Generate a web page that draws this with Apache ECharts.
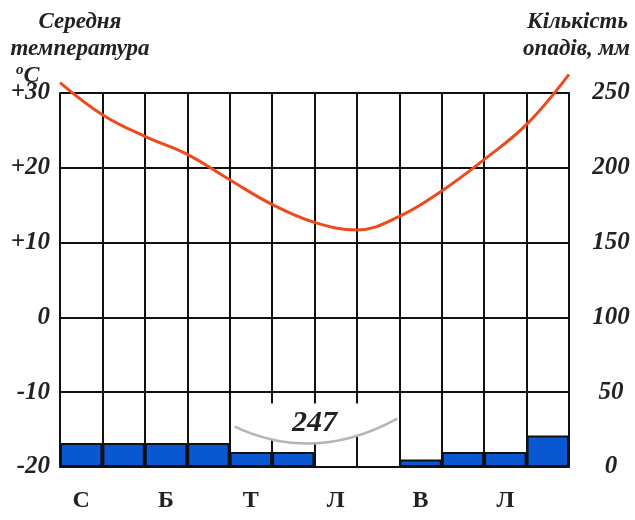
<!DOCTYPE html>
<html><head><meta charset="utf-8">
<script src="https://cdn.jsdelivr.net/npm/echarts@6/dist/echarts.min.js"></script>
<style>html,body{margin:0;padding:0;background:#fff}#c{width:635px;height:520px}</style>
</head><body><div id="c"></div>
<script>
const months = ['С','Л','Б','К','Т','Ч','Л','С','В','Ж','Л','Г'];
const precipitation = [16,16,16,16,10,10,0,0,5,10,10,21];
const boundaries = ['0','1','2','3','4','5','6','7','8','9','10','11','12'];
const temperature = [31.4,27.1,24.2,21.8,18.4,15.1,12.7,11.7,13.5,16.9,21.1,25.8,32.5];
const tempTicks = {min:-20, max:30, interval:10};
const precipTicks = {min:0, max:250, interval:50};
const noteText = '247';

const FONT = '"Liberation Serif", "DejaVu Serif", serif';
const chart = echarts.init(document.getElementById('c'), null, {renderer:'canvas'});
const grid = {left:60, right:66, top:93, bottom:53};
const titleFont = 'italic bold 23px ' + FONT;
const titles = [
  {type:'text', x:80, y:22, style:{text:'Середня', font:titleFont, fill:'#222', align:'center', verticalAlign:'middle'}},
  {type:'text', x:80, y:49, style:{text:'температура', font:titleFont, fill:'#222', align:'center', verticalAlign:'middle'}},
  {type:'text', x:16, y:76, style:{text:'{o|o}{c|C}', fill:'#222', verticalAlign:'middle',
    rich:{o:{font:'italic bold 15px '+FONT, fill:'#222', verticalAlign:'top', padding:[0,0,12,0]}, c:{font:'italic bold 24px '+FONT, fill:'#222'}}}},
  {type:'text', x:628, y:22, style:{text:'Кількість', font:titleFont, fill:'#222', align:'right', verticalAlign:'middle'}},
  {type:'text', x:630, y:49, style:{text:'опадів, мм', font:titleFont, fill:'#222', align:'right', verticalAlign:'middle'}}
];
chart.setOption({
  animation:false,
  grid: grid,
  xAxis:[{
    type:'category', data:months, boundaryGap:true,
    axisLine:{lineStyle:{color:'#111', width:2}},
    axisTick:{show:true, interval:0, length:8, lineStyle:{color:'#111', width:2}},
    axisLabel:{interval:1, margin:22, fontFamily:FONT, fontWeight:'bold', fontSize:24, color:'#222'},
    splitLine:{show:true, interval:0, lineStyle:{color:'#111', width:2}}
  },{
    type:'category', data:boundaries, boundaryGap:false, show:false, position:'top'
  }],
  yAxis:[{
    type:'value', min:tempTicks.min, max:tempTicks.max, interval:tempTicks.interval,
    axisLine:{show:true, lineStyle:{color:'#111', width:2}},
    axisTick:{show:false},
    axisLabel:{margin:10, fontFamily:FONT, fontStyle:'italic', fontWeight:'bold', fontSize:25, color:'#222',
      formatter:v => v>0 ? '+'+v : String(v)},
    splitLine:{show:true, lineStyle:{color:'#111', width:2}}
  },{
    type:'value', min:precipTicks.min, max:precipTicks.max, interval:precipTicks.interval,
    position:'right',
    axisLine:{show:true, lineStyle:{color:'#111', width:2}},
    axisTick:{show:false},
    axisLabel:{margin:42, align:'center', fontFamily:FONT, fontStyle:'italic', fontWeight:'bold', fontSize:25, color:'#222'},
    splitLine:{show:false}
  }],
  series:[{
    type:'bar', xAxisIndex:0, yAxisIndex:1, data:precipitation, barCategoryGap:0,
    itemStyle:{color:'#0a57d2', borderColor:'#111', borderWidth:2}, z:2
  },{
    type:'line', xAxisIndex:1, yAxisIndex:0, data:temperature, smooth:0.4, symbol:'none', clip:false,
    lineStyle:{color:'#ee4a1c', width:3}, z:5
  }],
  graphic:titles
});

// annotation "247" placed from axis coordinates
const xL = chart.convertToPixel({xAxisIndex:1}, 4);
const xR = chart.convertToPixel({xAxisIndex:1}, 8);
const yTop = chart.convertToPixel({yAxisIndex:0}, -11.5);
const yEdge = chart.convertToPixel({yAxisIndex:0}, -14.6);
const yMid = chart.convertToPixel({yAxisIndex:0}, -19.6);
const cx = (xL + xR) / 2;
const p0 = [xL+3, yEdge], p2 = [xR-2, yEdge-8], c1 = [cx, yMid];
const curve = [];
for (let i = 0; i <= 30; i++) {
  const t = i/30, u = 1-t;
  curve.push([u*u*p2[0] + 2*u*t*c1[0] + t*t*p0[0], u*u*p2[1] + 2*u*t*c1[1] + t*t*p0[1]]);
}
const poly = [[xL+3, yTop],[xR-2, yTop]].concat(curve);
chart.setOption({graphic: titles.concat([
  {type:'polygon', shape:{points:poly}, style:{fill:'#fff'}, z:10},
  {type:'bezierCurve', shape:{x1:p0[0]+2, y1:p0[1], x2:p2[0], y2:p2[1], cpx1:c1[0], cpy1:c1[1]}, style:{fill:null, stroke:'#b5b5b5', lineWidth:2.5}, z:11},
  {type:'text', x:cx, y:(yTop + chart.convertToPixel({yAxisIndex:0}, -16.6))/2 + 1, z:12,
    style:{text:noteText, font:'italic bold 30px '+FONT, fill:'#222', align:'center', verticalAlign:'middle'}}
])}, {replaceMerge:['graphic']});
</script></body></html>
